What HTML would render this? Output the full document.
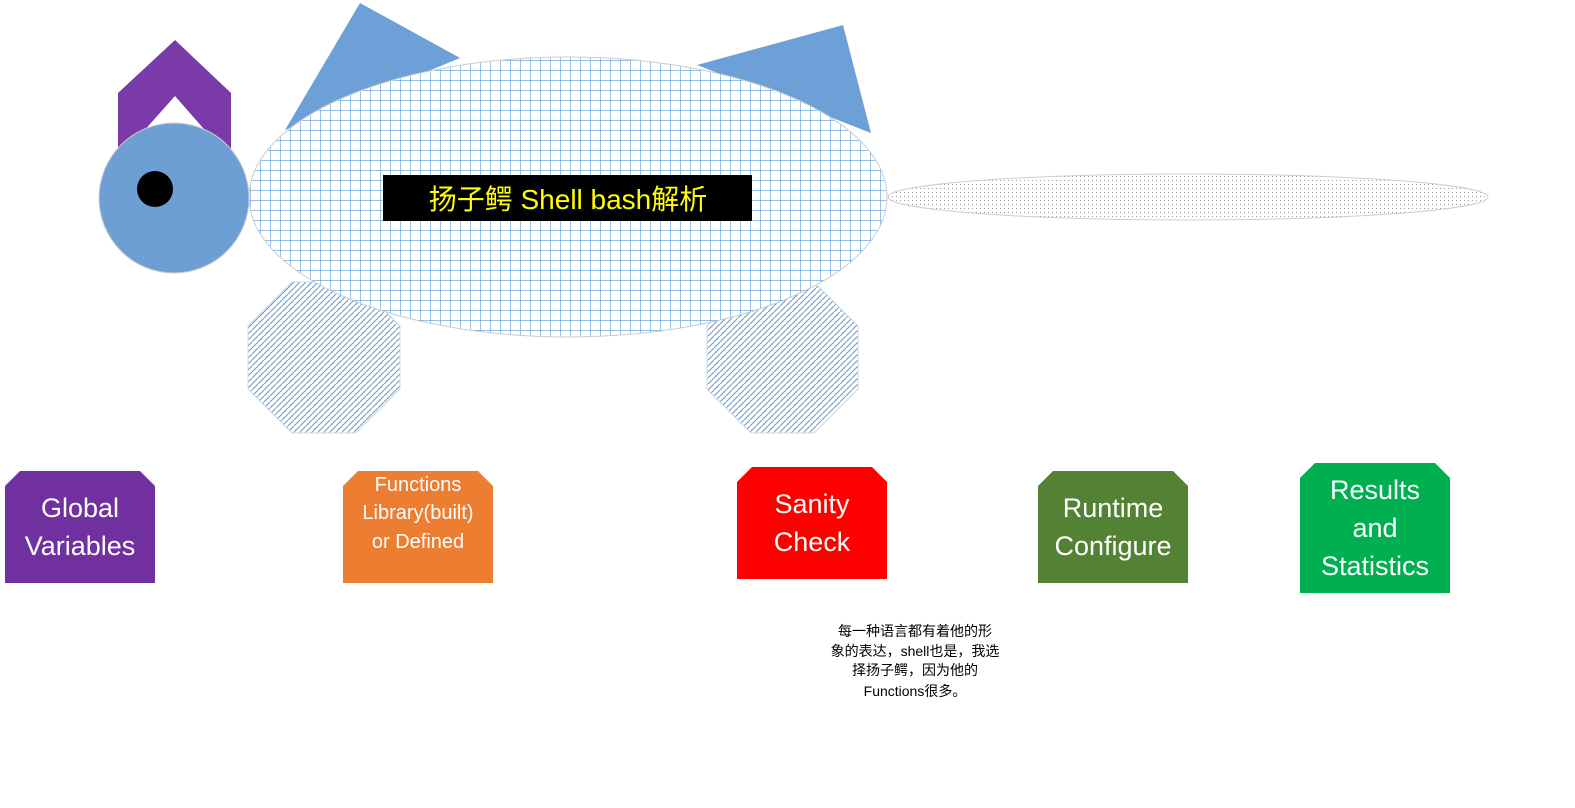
<!DOCTYPE html>
<html><head><meta charset="utf-8"><style>
html,body{margin:0;padding:0;background:#fff;width:1575px;height:808px;overflow:hidden}
svg text{font-family:"Liberation Sans","Noto Sans CJK SC",sans-serif}
</style></head><body>
<svg width="1575" height="808" viewBox="0 0 1575 808" xmlns="http://www.w3.org/2000/svg">
<defs>
<pattern id="grid" width="10" height="10" patternUnits="userSpaceOnUse">
<rect width="10" height="10" fill="#fff"/><path d="M0 0H10M0 0V10" stroke="#5b9bd5" stroke-width="1.2"/></pattern>
<pattern id="diag" width="6" height="6" patternUnits="userSpaceOnUse">
<rect width="6" height="6" fill="#fff"/><path d="M-1 7L7 -1" stroke="#5b9bd5" stroke-width="1"/></pattern>
<pattern id="dots" width="4" height="4" patternUnits="userSpaceOnUse">
<rect width="4" height="4" fill="#fff"/><rect width="1" height="1" fill="#999"/></pattern>
</defs>
<polygon points="175,40 231,93 231,160 175,96 118,160 118,93" fill="#7a3aa8"/>
<polygon points="285,130 360,3 460,58" fill="#6ea0d8"/>
<polygon points="697,65 843,25 871,133" fill="#6ea0d8"/>
<polygon points="292,282 356,282 400,326 400,389 356,433 292,433 248,389 248,326" fill="url(#diag)" stroke="#c8d8ea"/>
<polygon points="751,282 814,282 858,326 858,389 814,433 751,433 707,389 707,326" fill="url(#diag)" stroke="#c8d8ea"/>
<ellipse cx="568" cy="197" rx="319" ry="140" fill="url(#grid)" stroke="#ccc"/>
<ellipse cx="1188" cy="197" rx="300" ry="23" fill="url(#dots)" stroke="#ccc"/>
<circle cx="174" cy="198" r="75" fill="#6e9fd4" stroke="#ccc"/>
<circle cx="155" cy="189" r="18" fill="#000"/>
<rect x="383" y="175" width="369" height="46" fill="#000"/>
<text x="568" y="209" font-size="28" fill="#ffff00" text-anchor="middle">扬子鳄  Shell bash解析</text>
<g font-size="27" fill="#fff" text-anchor="middle">
<polygon points="20,471 140,471 155,486 155,583 5,583 5,486" fill="#7030a0"/>
<text x="80" y="517">Global</text><text x="80" y="555">Variables</text>
<polygon points="358,471 478,471 493,486 493,583 343,583 343,486" fill="#ed7d31"/>
<text x="418" y="491" font-size="20">Functions</text><text x="418" y="519" font-size="20">Library(built)</text><text x="418" y="548" font-size="20">or Defined</text>
<polygon points="752,467 872,467 887,482 887,579 737,579 737,482" fill="#ff0000"/>
<text x="812" y="513">Sanity</text><text x="812" y="551">Check</text>
<polygon points="1053,471 1173,471 1188,486 1188,583 1038,583 1038,486" fill="#548235"/>
<text x="1113" y="517">Runtime</text><text x="1113" y="555">Configure</text>
<polygon points="1315,463 1435,463 1450,478 1450,593 1300,593 1300,478" fill="#00b050"/>
<text x="1375" y="499">Results</text><text x="1375" y="537">and</text><text x="1375" y="575">Statistics</text>
</g>
<g font-size="14" fill="#000" text-anchor="middle">
<text x="915" y="636">每一种语言都有着他的形</text>
<text x="915" y="656">象的表达，shell也是，我选</text>
<text x="915" y="675">择扬子鳄，因为他的</text>
<text x="915" y="696">Functions很多。</text>
</g>
</svg>
</body></html>
